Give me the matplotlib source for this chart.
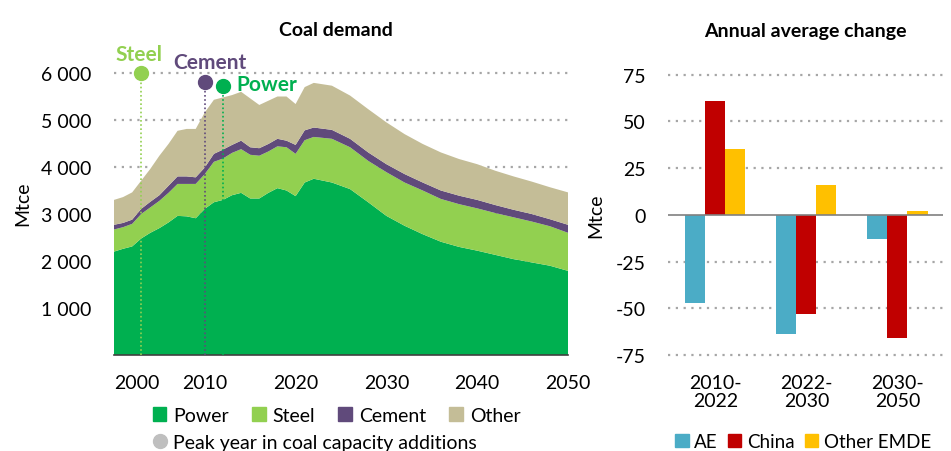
import matplotlib.pyplot as plt
from matplotlib.patches import Patch
from matplotlib.lines import Line2D
import numpy as np

plt.rcParams['font.family'] = ['Lato', 'DejaVu Sans']

# coal demand by sector, Mtce
years = list(range(2000, 2023)) + list(range(2024, 2051, 2))
power = [2200, 2260, 2310, 2480, 2600, 2700, 2820, 2960, 2950, 2910, 3110, 3250, 3300, 3400,
         3450, 3330, 3330, 3450, 3550, 3500, 3380, 3670, 3750,
         3670, 3530, 3250, 2960, 2750, 2570, 2410, 2300, 2220, 2130, 2040, 1970, 1900, 1790]
steel = [470, 460, 480, 520, 540, 580, 630, 680, 690, 730, 740, 860, 880, 900,
         930, 930, 910, 880, 890, 920, 900, 900, 890,
         930, 890, 880, 930, 920, 930, 910, 910, 900, 890, 890, 870, 840, 810]
cement = [100, 90, 90, 110, 120, 120, 150, 160, 160, 140, 140, 170, 190, 170,
          180, 160, 160, 160, 160, 140, 190, 210, 200,
          190, 180, 180, 170, 180, 170, 180, 180, 180, 170, 160, 160, 150, 170]
other = [530, 550, 580, 600, 700, 840, 890, 970, 1010, 1030, 1170, 1150, 1110, 1060,
         1040, 1040, 920, 920, 900, 940, 870, 920, 950,
         940, 920, 920, 890, 850, 820, 810, 780, 760, 730, 710, 690, 680, 690]

# peak year in coal capacity additions
peak_names = ['Steel', 'Cement', 'Power']
peak_years = [2003, 2010, 2012]
peak_levels = [6000, 5800, 5720]

left_yticks = [1000, 2000, 3000, 4000, 5000, 6000]
left_ylabels = ['1 000', '2 000', '3 000', '4 000', '5 000', '6 000']
left_xticks = [2000, 2010, 2020, 2030, 2040, 2050]

# annual average change, Mtce
periods = ['2010-\n2022', '2022-\n2030', '2030-\n2050']
ae = [-47, -64, -13]
china = [61, -53, -66]
other_emde = [35, 16, 2]
right_yticks = [75, 50, 25, 0, -25, -50, -75]
right_ylabels = ['75', '50', '25', '0', '-25', '-50', '-75']

c_power = '#00B050'
c_steel = '#92D050'
c_cement = '#604A7B'
c_other = '#C4BD97'
c_ae = '#4BACC6'
c_china = '#C00000'
c_emde = '#FFC000'
grid_c = '#A6A6A6'
fs = 14

fig = plt.figure(figsize=(9.51, 4.52), dpi=100)
W, H = 951, 452

# ---- left: coal demand
ax = fig.add_axes([114 / W, 96 / H, 454 / W, 305.5 / H])
ax.stackplot(years, power, steel, cement, other,
             colors=[c_power, c_steel, c_cement, c_other], linewidth=0)
ax.set_xlim(2000, 2050)
ax.set_ylim(0, 6500)
for yv in left_yticks:
    ax.axhline(yv, color=grid_c, linestyle=(0, (1, 2.5)), linewidth=1.6, zorder=0)
ax.set_yticks(left_yticks)
ax.set_yticklabels(left_ylabels, fontsize=fs)
ax.set_xticks(left_xticks)
ax.set_xticklabels([str(y) for y in left_xticks], fontsize=fs)
ax.get_xticklabels()[0].set_ha('left')
ax.tick_params(axis='y', length=0, pad=16)
ax.tick_params(axis='x', length=0, pad=14)
for s in ['top', 'right', 'left']:
    ax.spines[s].set_visible(False)
ax.spines['bottom'].set_color('#404040')
ax.spines['bottom'].set_linewidth(1.2)
ax.set_ylabel('Mtce', fontsize=fs, labelpad=7)

peak_colors = [c_steel, c_cement, c_power]
for name, yr, lv, col in zip(peak_names, peak_years, peak_levels, peak_colors):
    ax.plot([yr, yr], [0, lv], color=col, linestyle=(0, (1, 1.5)), linewidth=1.2, zorder=3)
    ax.plot(yr, lv, 'o', color=col, ms=10, zorder=4, clip_on=False)
ax.text(2002.7, 6400, 'Steel', color=c_steel, fontsize=15, fontweight='bold',
        ha='center', va='center')
ax.text(2010.6, 6230, 'Cement', color=c_cement, fontsize=15, fontweight='bold',
        ha='center', va='center')
ax.text(2013.5, 5760, 'Power', color=c_power, fontsize=15, fontweight='bold',
        ha='left', va='center')

fig.text(336 / W, 1 - 31 / H, 'Coal demand', fontsize=14, fontweight='bold',
         ha='center', va='center')

h1 = [Patch(color=c_power, label='Power'), Patch(color=c_steel, label='Steel'),
      Patch(color=c_cement, label='Cement'), Patch(color=c_other, label='Other')]
fig.legend(handles=h1, loc='upper left', bbox_to_anchor=(143 / W, 1 - 398 / H),
           ncol=4, frameon=False, borderpad=0, fontsize=fs, handlelength=0.7,
           handleheight=0.7, handletextpad=0.35, columnspacing=1.2)
h2 = [Line2D([], [], marker='o', color='#BFBFBF', linestyle='none', ms=10,
             label='Peak year in coal capacity additions')]
fig.legend(handles=h2, loc='upper left', bbox_to_anchor=(143 / W, 1 - 425 / H),
           frameon=False, borderpad=0, fontsize=fs, handlelength=0.7,
           handletextpad=0.35)

# ---- right: annual average change
ax2 = fig.add_axes([668 / W, 96 / H, 275 / W, 280.3 / H])
x = np.arange(len(periods))
w = 0.22
ax2.bar(x - w, ae, w, color=c_ae, label='AE', zorder=2)
ax2.bar(x, china, w, color=c_china, label='China', zorder=2)
ax2.bar(x + w, other_emde, w, color=c_emde, label='Other EMDE', zorder=2)
ax2.set_xlim(-0.52, 2.5)
ax2.set_ylim(-75, 75)
for yv in right_yticks:
    if yv != 0:
        ax2.axhline(yv, color=grid_c, linestyle=(0, (1, 2.5)), linewidth=1.6, zorder=0,
                    clip_on=False)
ax2.axhline(0, color='#808080', linewidth=1.2, zorder=3)
ax2.set_yticks(right_yticks)
ax2.set_yticklabels(right_ylabels, fontsize=fs)
ax2.set_xticks(x)
ax2.set_xticklabels(periods, fontsize=fs, linespacing=1.05)
ax2.tick_params(axis='y', length=0, pad=16)
ax2.tick_params(axis='x', length=0, pad=14)
for s in ax2.spines.values():
    s.set_visible(False)
ax2.set_ylabel('Mtce', fontsize=fs, labelpad=8)

fig.text(805 / W, 1 - 31 / H, 'Annual average change', fontsize=14, fontweight='bold',
         ha='center', va='center')
fig.legend(handles=[Patch(color=c_ae, label='AE'), Patch(color=c_china, label='China'),
                    Patch(color=c_emde, label='Other EMDE')],
           loc='upper left', bbox_to_anchor=(666 / W, 1 - 425 / H), ncol=3, frameon=False,
           borderpad=0, fontsize=13.5, handlelength=0.7, handleheight=0.7,
           handletextpad=0.3, columnspacing=0.55)

fig.savefig('out.png', dpi=100)
